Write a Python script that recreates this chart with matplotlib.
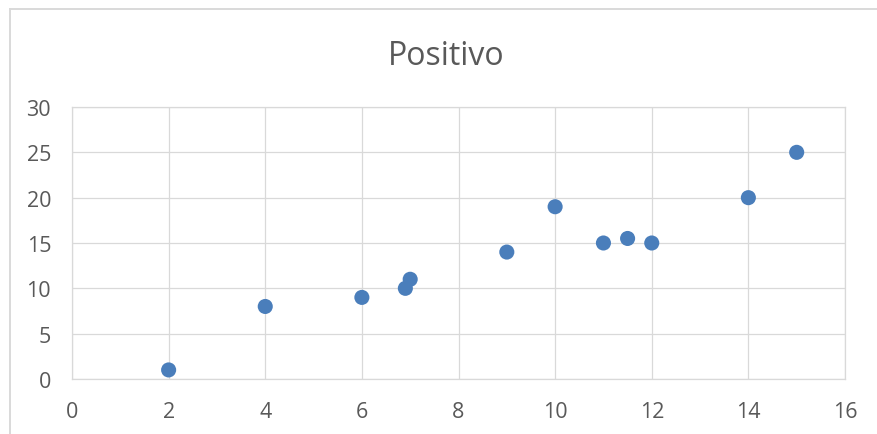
# Scatter chart "Positivo" in the Excel default look.
import matplotlib

matplotlib.use("Agg")
import matplotlib.pyplot as plt
from matplotlib.lines import Line2D

BLUE = "#4A7EBB"
GRID = "#D9D9D9"
TEXT = "#595959"

x_vals = [2, 4, 6, 6.9, 7, 9, 10, 11, 11.5, 12, 14, 15]
y_vals = [1, 8, 9, 10, 11, 14, 19, 15, 15.5, 15, 20, 25]
x_ticks = [0, 2, 4, 6, 8, 10, 12, 14, 16]
y_ticks = [0, 5, 10, 15, 20, 25, 30]

plt.rcParams["font.family"] = ["Open Sans", "DejaVu Sans"]

W, H = 877, 435
fig = plt.figure(figsize=(W / 100, H / 100), dpi=100)
ax = fig.add_axes([72 / W, (H - 380) / H, (845 - 72) / W, (380 - 108) / H])

ax.scatter(x_vals, y_vals, s=118, color=BLUE, edgecolors="none", zorder=3)

ax.set_xlim(0, 16)
ax.set_ylim(0, 30)
ax.set_xticks(x_ticks)
ax.set_yticks(y_ticks)
ax.grid(True, color=GRID, lw=0.9)
ax.set_axisbelow(True)
for s in ax.spines.values():
    s.set_color(GRID)
    s.set_linewidth(0.9)
ax.tick_params(length=0, labelsize=15.5, labelcolor=TEXT)
ax.tick_params(axis="x", pad=16)
ax.tick_params(axis="y", pad=15)

fig.text(446 / W, (H - 65) / H, "Positivo", ha="center", va="baseline",
         fontsize=23, color=TEXT)

# chart-area frame, running off the right and bottom edges
fig.add_artist(Line2D([9.5 / W, 9.5 / W], [0, (H - 9.5) / H], color=GRID, lw=1.4))
fig.add_artist(Line2D([9.5 / W, 1], [(H - 9.5) / H, (H - 9.5) / H], color=GRID, lw=1.4))

fig.savefig("out.png", dpi=100, facecolor="white")
